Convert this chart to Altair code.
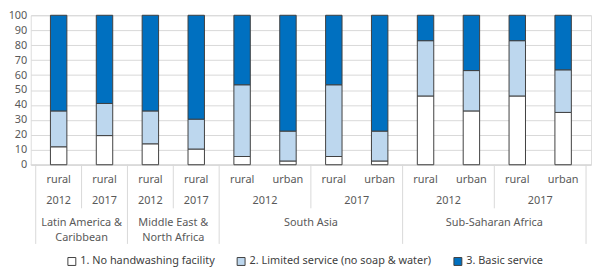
import altair as alt
import pandas as pd

# ---- data ----
regions = ["Latin America &\nCaribbean", "Latin America &\nCaribbean",
           "Middle East &\nNorth Africa", "Middle East &\nNorth Africa",
           "South Asia", "South Asia", "South Asia", "South Asia",
           "Sub-Saharan Africa", "Sub-Saharan Africa", "Sub-Saharan Africa", "Sub-Saharan Africa"]
years = ["2012", "2017", "2012", "2017", "2012", "2012", "2017", "2017",
         "2012", "2012", "2017", "2017"]
areas = ["rural", "rural", "rural", "rural", "rural", "urban", "rural", "urban",
         "rural", "urban", "rural", "urban"]
no_facility = [12, 19.5, 14, 10.5, 5.5, 2.5, 5.5, 2.5, 46, 36, 46, 35]
limited = [24, 21.5, 22, 20, 48, 20, 48, 20, 37, 27, 37, 28.5]
basic = [64, 59, 64, 69.5, 46.5, 77.5, 46.5, 77.5, 17, 37, 17, 36.5]
series_names = ["1. No handwashing facility",
                "2. Limited service (no soap & water)",
                "3. Basic service"]
series_colors = ["#FFFFFF", "#BDD7EE", "#0070C0"]
y_ticks = [0, 10, 20, 30, 40, 50, 60, 70, 80, 90, 100]

W, H = 566, 151
FONT = "Noto Sans"
GRAY = "#595959"
LINE = "#D9D9D9"

n = len(areas)
bars = pd.DataFrame({"pos": list(range(n)), "region": regions, "year": years, "area": areas})

rows = []
for i in range(n):
    for k, (name, vals) in enumerate(zip(series_names, [no_facility, limited, basic])):
        rows.append({"pos": i, "series": name, "order": k, "value": vals[i]})
long = pd.DataFrame(rows)

# separator lines between year groups (short) and regions (full height)
full_b = [-0.5]
short_b = []
for i in range(n - 1):
    if regions[i] != regions[i + 1]:
        full_b.append(i + 0.5)
    elif years[i] != years[i + 1]:
        short_b.append(i + 0.5)
full_b.append(n - 0.5)

xscale = alt.Scale(domain=[-0.5, n - 0.5], nice=False, zero=False)

step = W / n
stacked = alt.Chart(long).mark_bar(size=step * 0.352, stroke="#404040", strokeWidth=1).encode(
    x=alt.X("pos:Q", scale=xscale, axis=None),
    y=alt.Y("value:Q", stack="zero", scale=alt.Scale(domain=[0, 100], nice=False),
            axis=alt.Axis(values=y_ticks, grid=True, gridColor=LINE, domain=False, ticks=False,
                          labelPadding=4, labelColor=GRAY, labelFontSize=11, labelFont=FONT,
                          title=None)),
    color=alt.Color("series:N", scale=alt.Scale(domain=series_names, range=series_colors),
                    legend=alt.Legend(orient="none", legendX=36, legendY=H + 92,
                                      direction="horizontal", title=None, symbolType="square",
                                      symbolSize=64, symbolStrokeColor="#404040",
                                      symbolStrokeWidth=1, labelFontSize=11, labelFont=FONT,
                                      labelColor="#404040", columnPadding=20, labelOffset=3,
                                      labelLimit=400)),
    order=alt.Order("order:Q", sort="ascending"),
)

base_line = alt.Chart(pd.DataFrame({"a": [0]})).mark_rule(color=LINE, strokeWidth=1).encode(
    x=alt.value(0), x2=alt.value(W), y=alt.value(H))

short_lines = alt.Chart(pd.DataFrame({"b": short_b})).mark_rule(color=LINE, strokeWidth=1).encode(
    x=alt.X("b:Q", scale=xscale, axis=None), y=alt.value(H), y2=alt.value(H + 44))

full_lines = alt.Chart(pd.DataFrame({"b": full_b})).mark_rule(color=LINE, strokeWidth=1).encode(
    x=alt.X("b:Q", scale=xscale, axis=None), y=alt.value(H), y2=alt.value(H + 80))

area_text = alt.Chart(bars).mark_text(font=FONT, fontSize=11, color=GRAY, baseline="middle").encode(
    x=alt.X("pos:Q", scale=xscale, axis=None), y=alt.value(H + 15), text="area:N")

year_text = alt.Chart(bars).mark_text(font=FONT, fontSize=11, color=GRAY, baseline="middle").encode(
    x=alt.X("mean(pos):Q", scale=xscale, axis=None), y=alt.value(H + 37),
    text="year:N", detail="region:N")

region_text = alt.Chart(bars).mark_text(font=FONT, fontSize=11, color=GRAY, baseline="middle",
                                        lineBreak="\n", lineHeight=15).encode(
    x=alt.X("mean(pos):Q", scale=xscale, axis=None), y=alt.value(H + 59),
    text="region:N")

chart = alt.layer(base_line, stacked, short_lines, full_lines, area_text, year_text, region_text).properties(
    width=W, height=H, padding=0
).configure_view(stroke=None).configure(font=FONT)

chart.save("out.html", embed_options={"renderer": "svg", "actions": False})
